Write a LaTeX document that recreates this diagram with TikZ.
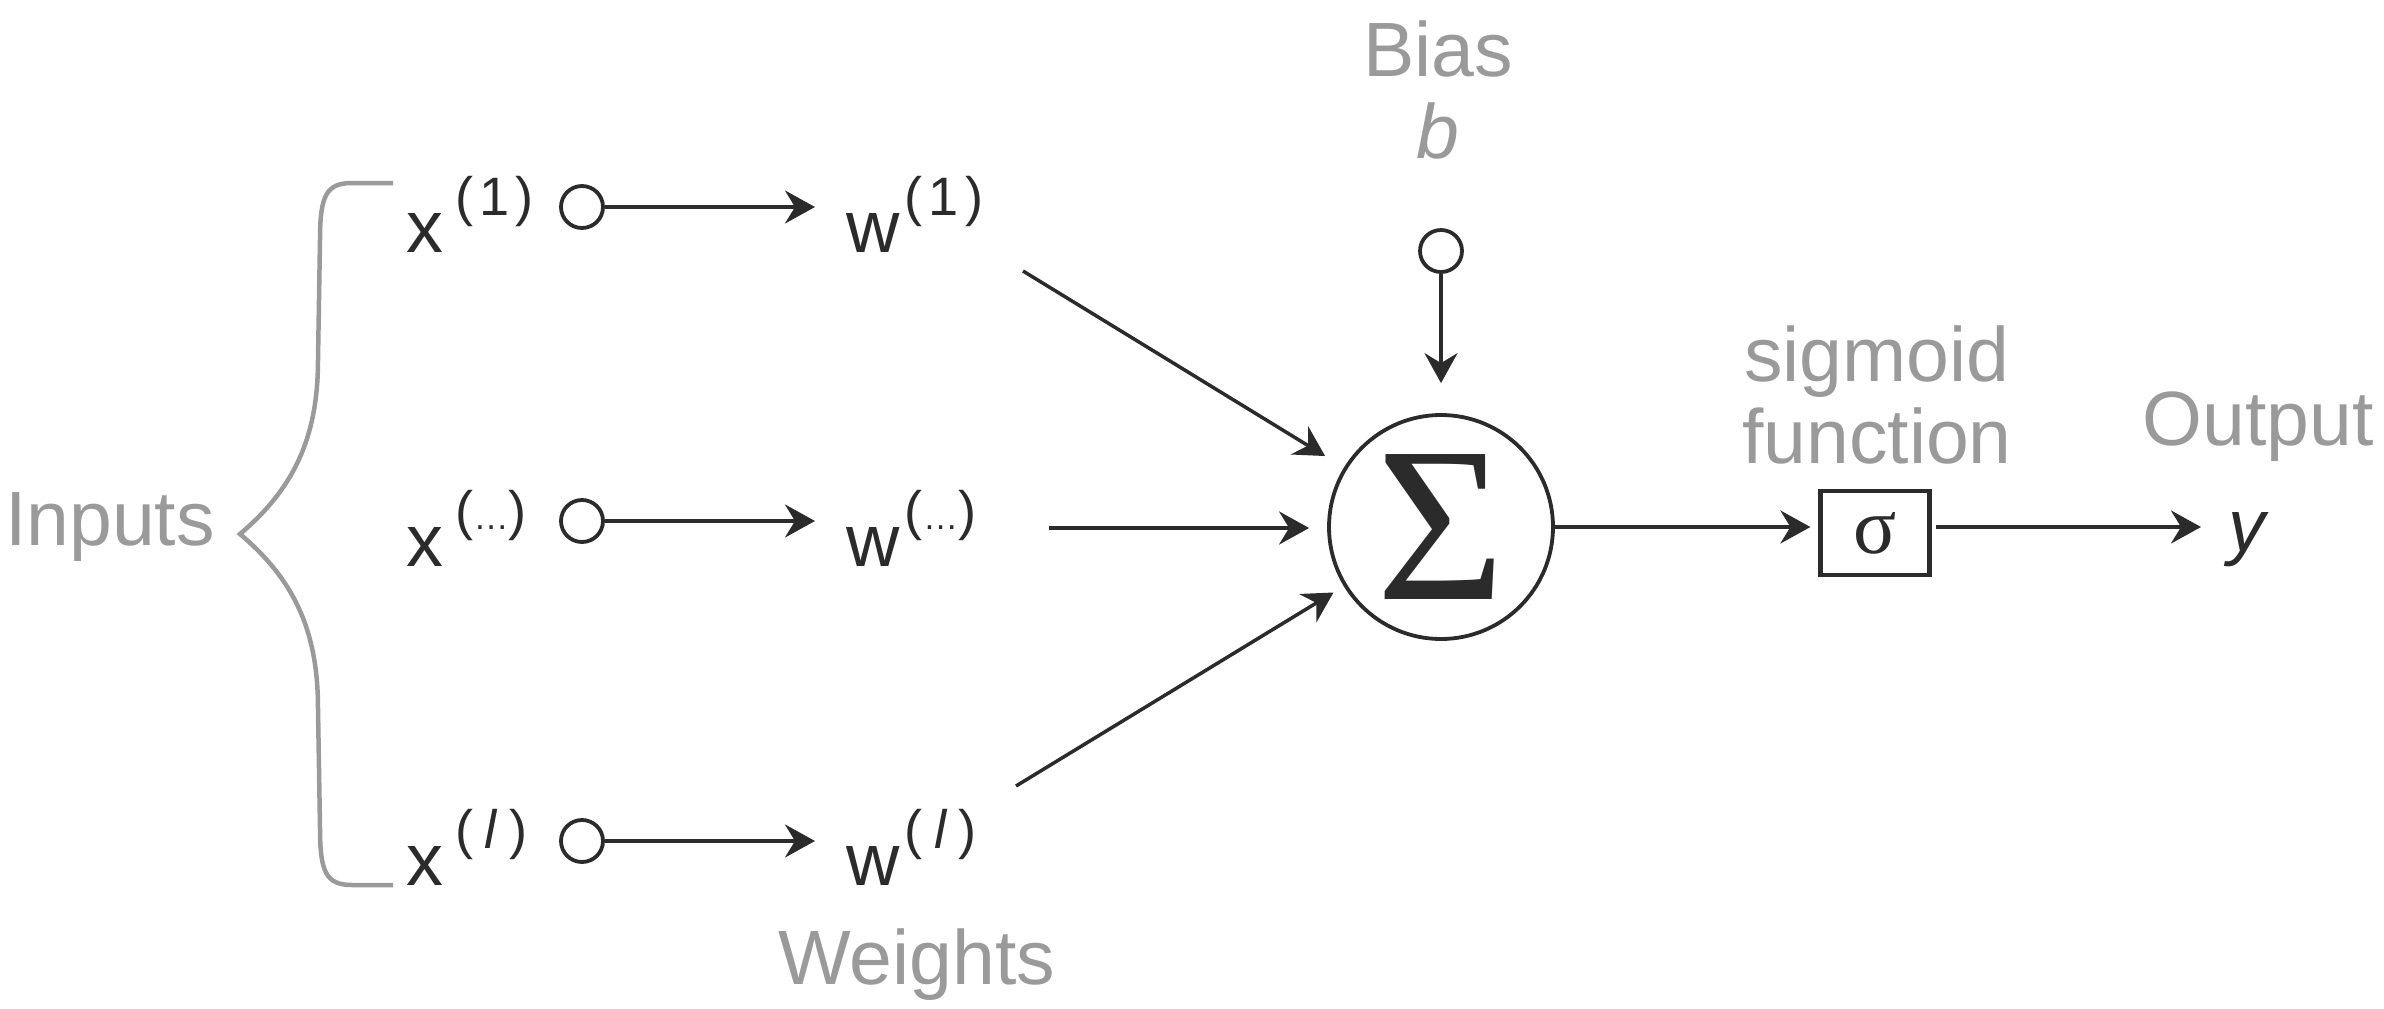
\documentclass[tikz,border=0pt]{standalone}
\usepackage{fontspec}
\setmainfont{Liberation Sans}
\newfontfamily\serifsym{Liberation Serif}
\usepackage{tikz}
\usetikzlibrary{arrows.meta,positioning}

\definecolor{ink}{HTML}{2B2B2B}
\definecolor{greyink}{HTML}{9A9A9A}

% raised index in round brackets
\newcommand{\upidx}[2][1.7pt]{\raisebox{10.5pt}{\fontsize{15.4}{16}\selectfont(\hspace{#1}#2\hspace{#1})}}
\newcommand{\dotsidx}{\raisebox{10.5pt}{\fontsize{15.4}{16}\selectfont({\fontsize{10}{10}\selectfont…})}}

\begin{document}
\begin{tikzpicture}[x=0.1mm,y=-0.1mm,>={Stealth[length=3mm,width=3.3mm,inset=1mm]},
    line width=0.35mm,ink]
  \tikzstyle{port}=[circle,draw,line width=0.38mm,minimum size=4.2mm,inner sep=0pt]
  \tikzstyle{sym}=[inner sep=0pt,text=ink,font=\fontsize{21}{25}\selectfont]
  \tikzstyle{greytext}=[inner sep=0pt,text=greyink,align=center,font=\fontsize{21.9}{23.6}\selectfont]
  \tikzstyle{conn}=[->,line width=0.35mm]

  \useasboundingbox (0,0) rectangle (2384,1009);

  % inputs
  \node[port] (in1) at (582,207) {};
  \node[port] (in2) [below of=in1,node distance=31.4mm] {};
  \node[port] (in3) [below of=in2,node distance=32mm] {};

  \node[sym,anchor=base west] (x1) at (405,252) {x\hspace{3.4pt}\upidx{1}};
  \node[sym,anchor=base west] (x2) at (405,566) {x\hspace{3.4pt}\dotsidx};
  \node[sym,anchor=base west] (x3) at (405,885) {x\hspace{3.4pt}\upidx[3.2pt]{\textit{l}}};

  \node[sym,anchor=base west] (w1) at (845,252) {w\hspace{1.4pt}\upidx{1}};
  \node[sym,anchor=base west] (w2) at (845,566) {w\hspace{1.4pt}\dotsidx};
  \node[sym,anchor=base west] (w3) at (845,885) {w\hspace{1.4pt}\upidx[3.2pt]{\textit{l}}};

  % summation, bias, activation
  \node[circle,draw,line width=0.38mm,minimum size=22.4mm,inner sep=0pt,
        font=\serifsym\fontsize{63}{64}\selectfont] (sum) at (1441,527) {Σ};
  \node[port] (bias) [above of=sum,node distance=27.6mm] {};
  \node[draw,line width=0.42mm,minimum width=10.9mm,minimum height=8.4mm,inner sep=0pt,yshift=-0.6mm,
        font=\serifsym\fontsize{22.8}{24}\selectfont] (sig) [right of=sum,node distance=43.4mm] {σ};
  \node[sym,anchor=base west,font=\fontsize{21}{25}\selectfont\itshape] (out) at (2227,551) {y};

  \coordinate (d1) at (1023,271);
  \coordinate (d2) at (1049,528);
  \coordinate (d3) at (1016,786);

  % captions
  \node[greytext,anchor=base] (inputs) at (110,545) {Inputs};
  \node[greytext] (biaslbl) at (1438,90) {Bias\\\textit{b}};
  \node[greytext] (sigmoidlbl) at (1877,395) {sigmoid\\function};
  \node[greytext,anchor=base] (outlbl) at (2258,445) {Output};
  \node[greytext,anchor=base] (weights) at (917,984) {Weights};

  % brace
  \draw[greyink,line width=0.45mm] (393,183) -- (352,183)
    .. controls (326,183) and (320,196) .. (320,240) -- (318,360)
    .. controls (318,440) and (292,490) .. (240,534)
    .. controls (292,578) and (318,628) .. (318,708) -- (320,828)
    .. controls (320,872) and (326,885) .. (352,885) -- (393,885);

  % connectors
  \draw[conn,shorten >=3mm] (in1) -- (in1 -| w1.west);
  \draw[conn,shorten >=3mm] (in2) -- (in2 -| w2.west);
  \draw[conn,shorten >=3mm] (in3) -- (in3 -| w3.west);

  \draw[conn,shorten >=2.2mm] (d1) -- (sum);
  \draw[conn,shorten >=1.8mm] (d2) -- (d2 -| sum.west);
  \draw[conn,shorten >=1.2mm] (d3) -- (sum);

  \draw[conn,shorten >=3mm] (bias) -- (bias |- sum.north);
  \draw[conn,shorten >=0.8mm] (sum.east) -- (sum.east -| sig.west);
  \draw[conn,shorten <=0.4mm,shorten >=2.6mm] (sig.east |- sum.east) -- (sum.east -| out.west);
\end{tikzpicture}
\end{document}
